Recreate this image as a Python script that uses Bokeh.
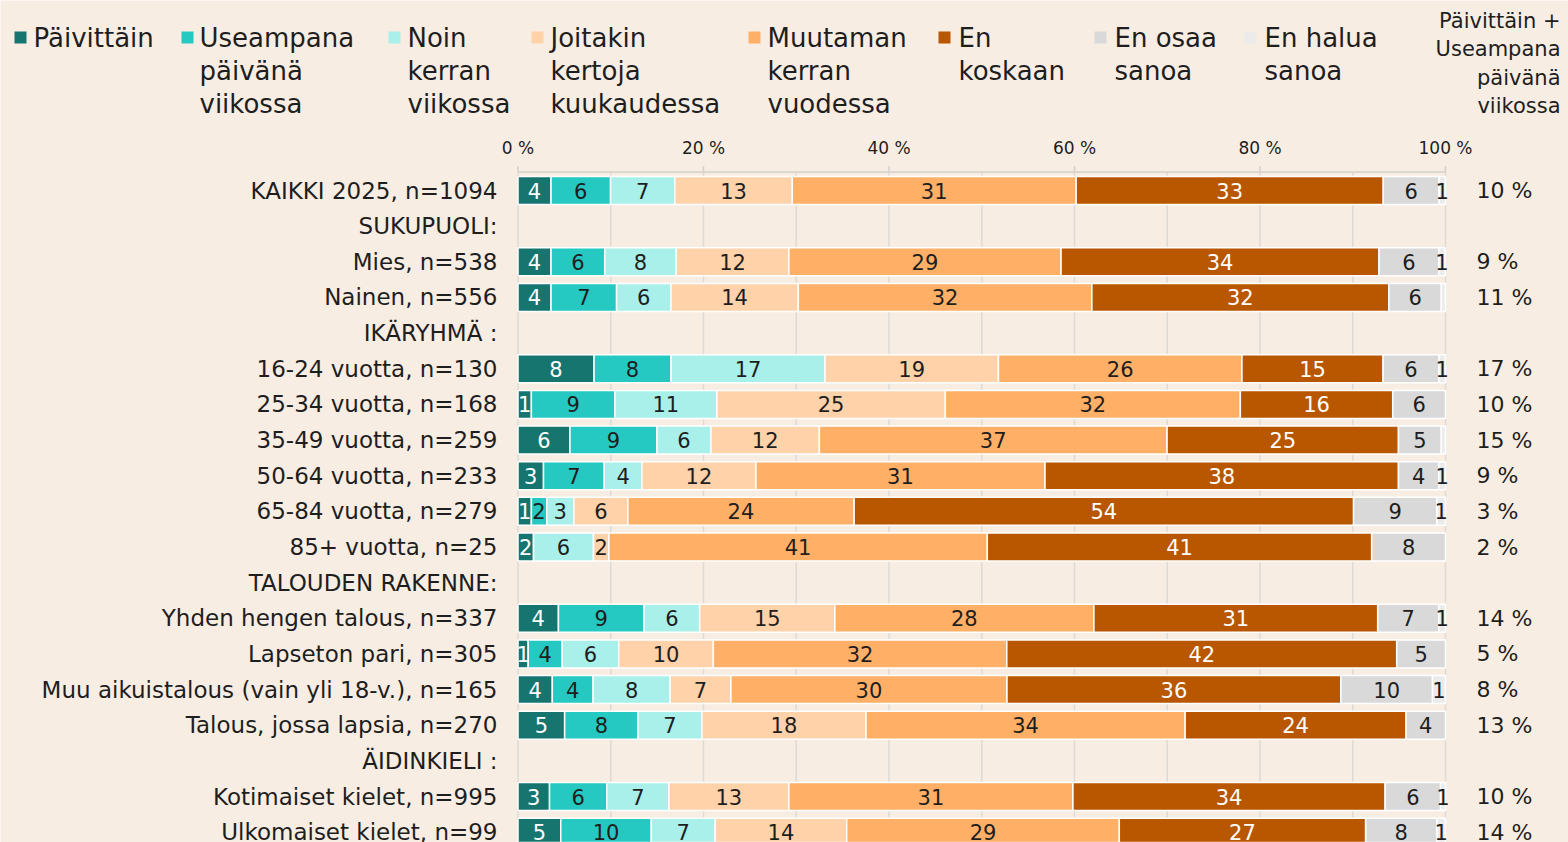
from bokeh.plotting import figure
from bokeh.models import ColumnDataSource, Range1d
from bokeh.core.properties import value
from bokeh.embed import file_html
from bokeh.resources import INLINE

# ---------------- data ----------------
categories = [
    "KAIKKI 2025, n=1094",
    "SUKUPUOLI:",
    "Mies, n=538",
    "Nainen, n=556",
    "IKÄRYHMÄ :",
    "16-24 vuotta, n=130",
    "25-34 vuotta, n=168",
    "35-49 vuotta, n=259",
    "50-64 vuotta, n=233",
    "65-84 vuotta, n=279",
    "85+ vuotta, n=25",
    "TALOUDEN RAKENNE:",
    "Yhden hengen talous, n=337",
    "Lapseton pari, n=305",
    "Muu aikuistalous (vain yli 18-v.), n=165",
    "Talous, jossa lapsia, n=270",
    "ÄIDINKIELI :",
    "Kotimaiset kielet, n=995",
    "Ulkomaiset kielet, n=99",
]

paivittain = [3.56, None, 3.56, 3.56, None, 8.2, 1.44, 5.6, 2.75, 1.44, 1.67, None, 4.36, 1.1, 3.7, 5.03, None, 3.4, 4.61]
useampana = [6.42, None, 5.79, 7.07, None, 8.3, 9.0, 9.38, 6.55, 1.66, 0, None, 9.23, 3.67, 4.4, 7.91, None, 6.17, 9.76]
noin_kerran = [6.92, None, 7.71, 5.86, None, 16.6, 11.0, 5.82, 4.06, 2.92, 6.47, None, 6.0, 6.09, 8.3, 6.88, None, 6.7, 6.89]
joitakin = [12.67, None, 12.14, 13.73, None, 18.7, 24.63, 11.69, 12.29, 5.82, 1.66, None, 14.57, 10.2, 6.55, 17.7, None, 12.93, 14.18]
muutaman = [30.61, None, 29.35, 31.65, None, 26.25, 31.81, 37.49, 31.17, 24.4, 40.8, None, 27.93, 31.64, 29.77, 34.41, None, 30.63, 29.39]
en_koskaan = [33.11, None, 34.28, 32.02, None, 15.22, 16.43, 24.95, 38.11, 53.85, 41.44, None, 30.6, 42.04, 36.0, 23.82, None, 33.66, 26.56]
en_osaa = [6.02, None, 6.44, 5.66, None, 6.02, 5.69, 4.62, 4.34, 8.98, 7.96, None, 6.58, 5.26, 9.88, 4.25, None, 5.98, 7.68]
en_halua = [0.69, None, 0.7, 0.45, None, 0.71, 0, 0.45, 0.73, 0.93, 0, None, 0.73, 0, 1.4, 0, None, 0.53, 0.93]

paiv_plus_useamp = [10, None, 9, 11, None, 17, 10, 15, 9, 3, 2, None, 14, 5, 8, 13, None, 10, 14]

series_names = [
    "Päivittäin",
    "Useampana\npäivänä\nviikossa",
    "Noin\nkerran\nviikossa",
    "Joitakin\nkertoja\nkuukaudessa",
    "Muutaman\nkerran\nvuodessa",
    "En\nkoskaan",
    "En osaa\nsanoa",
    "En halua\nsanoa",
]
series = [paivittain, useampana, noin_kerran, joitakin, muutaman, en_koskaan, en_osaa, en_halua]
colors = ["#17756F", "#25C9C1", "#AAF0EA", "#FFD2AA", "#FFB066", "#B85700", "#D9D9D9", "#EBEBEB"]
label_colors = ["white", "#1E1E1E", "#1E1E1E", "#1E1E1E", "#1E1E1E", "white", "#1E1E1E", "#1E1E1E"]

axis_ticks = [0, 20, 40, 60, 80, 100]
axis_tick_labels = ["0 %", "20 %", "40 %", "60 %", "80 %", "100 %"]
grid_ticks = [0, 10, 20, 30, 40, 50, 60, 70, 80, 90, 100]
sum_header = "Päivittäin +\nUseampana\npäivänä\nviikossa"

# ---------------- layout helpers (page pixels -> data units) ----------------
X0, XS = 517.5, 9.275     # page x of 0 %, pixels per 1 %
Y0, YS = 190.0, 35.65     # page y of first row, pixels per row
W, H = 1568, 842


def px_x(p):
    return (p - X0) / XS


def px_y(p):
    return (p - Y0) / YS


FONT = "DejaVu Sans"
BG = "#F8EDE3"
TXT = "#1E1E1E"

p = figure(
    width=W, height=H,
    x_range=Range1d(px_x(0), px_x(W)),
    y_range=Range1d(px_y(H), px_y(0)),
    output_backend="svg", toolbar_location=None,
    min_border=0, x_axis_location=None, y_axis_location=None,
    background_fill_color=BG, border_fill_color=BG, outline_line_color=None,
    title=None,
)
p.xgrid.visible = False
p.ygrid.visible = False

# ---------------- grid / top axis ----------------
p.segment(x0=grid_ticks, x1=grid_ticks, y0=[px_y(172)] * len(grid_ticks),
          y1=[px_y(860)] * len(grid_ticks), line_color="#DEDAD4", line_width=1.5)
p.segment(x0=[0], x1=[100], y0=[px_y(171.5)], y1=[px_y(171.5)], line_color="#D4D0CB", line_width=1.5)
p.segment(x0=axis_ticks, x1=axis_ticks, y0=[px_y(165.5)] * len(axis_ticks),
          y1=[px_y(171.5)] * len(axis_ticks), line_color="#D4D0CB", line_width=1.5)
p.text(x=axis_ticks, y=[px_y(147)] * len(axis_ticks), text=axis_tick_labels,
       text_align="center", text_baseline="middle", text_font=value(FONT),
       text_font_size="17px", text_color=TXT)

# ---------------- bars ----------------
bar = dict(y=[], left=[], right=[], color=[])
lab = dict(x=[], y=[], text=[], color=[])
for i, cat in enumerate(categories):
    if series[0][i] is None:
        continue
    cum = 0.0
    for s, vals in enumerate(series):
        v = vals[i]
        if v is None or v <= 0:
            continue
        bar["y"].append(i)
        bar["left"].append(cum)
        bar["right"].append(cum + v)
        bar["color"].append(colors[s])
        r = int(v + 0.5)
        if r >= 1:
            lab["x"].append(cum + v / 2)
            lab["y"].append(i)
            lab["text"].append(str(r))
            lab["color"].append(label_colors[s])
        cum += v

p.hbar(y="y", left="left", right="right", height=0.785, fill_color="color",
       line_color="white", line_width=1.5, source=ColumnDataSource(bar))
p.text(x="x", y="y", text="text", text_color="color", text_align="center",
       text_baseline="middle", text_font=value(FONT), text_font_size="21px",
       source=ColumnDataSource(lab))

# ---------------- category labels ----------------
rows = list(range(len(categories)))
p.text(x=[px_x(497)] * len(rows), y=rows, text=categories, text_align="right",
       text_baseline="middle", text_font=value(FONT), text_font_size="23px", text_color=TXT)

# ---------------- right column ----------------
sy, st = [], []
for i, v in enumerate(paiv_plus_useamp):
    if v is not None:
        sy.append(i)
        st.append(f"{v} %")
p.text(x=[px_x(1476)] * len(sy), y=sy, text=st, text_align="left", text_baseline="middle",
       text_font=value(FONT), text_font_size="22px", text_color=TXT)

hdr_lines = sum_header.split("\n")
p.text(x=[px_x(1560)] * len(hdr_lines), y=[px_y(20 + 28.5 * k) for k in range(len(hdr_lines))],
       text=hdr_lines, text_align="right", text_baseline="middle",
       text_font=value(FONT), text_font_size="21px", text_color=TXT)

# ---------------- legend ----------------
leg_sq_x = [20, 187, 394, 537, 754, 944, 1100, 1250]
leg_tx_x = [33, 199, 407, 550, 767, 958, 1114, 1264]
lx, ly, lt = [], [], []
for s, name in enumerate(series_names):
    for k, line in enumerate(name.split("\n")):
        lx.append(px_x(leg_tx_x[s]))
        ly.append(px_y(37 + 33 * k))
        lt.append(line)
p.scatter(x=[px_x(v) for v in leg_sq_x], y=[px_y(37)] * len(leg_sq_x), marker="square",
          size=12, fill_color=colors, line_color=None)
p.text(x=lx, y=ly, text=lt, text_align="left", text_baseline="middle",
       text_font=value(FONT), text_font_size="26px", text_color=TXT)

open("out.html", "w").write(file_html(p, INLINE))
